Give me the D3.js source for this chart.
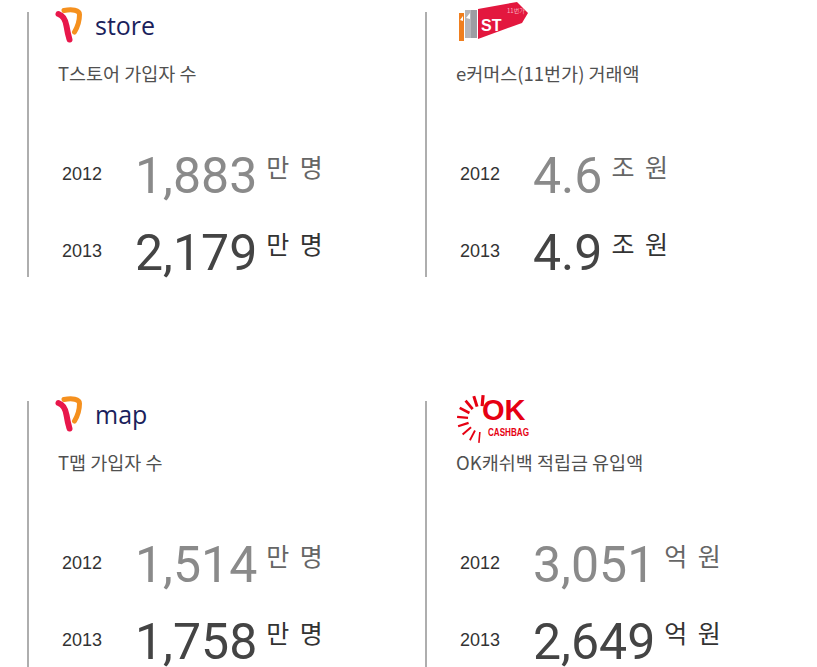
<!DOCTYPE html>
<html><head><meta charset="utf-8">
<script src="https://cdn.jsdelivr.net/npm/d3@7"></script>
<style>html,body{margin:0;padding:0;background:#fff;}svg{display:block;}</style>
</head><body>
<script>
// ---- data ----
const panelTitles = ["T스토어 가입자 수", "e커머스(11번가) 거래액", "T맵 가입자 수", "OK캐쉬백 적립금 유입액"];
const panelLogos = ["store", "11st", "map", "ok"];
const years = ["2012", "2013"];
const values2012 = [1883, 4.6, 1514, 3051];
const values2013 = [2179, 4.9, 1758, 2649];
const units = ["만 명", "조 원", "만 명", "억 원"];
const valueFormats = [",", ".1f", ",", ","];

const W = 817, H = 667;
const svg = d3.select("body").append("svg").attr("width", W).attr("height", H);

const colX = d3.scalePoint().domain([0, 1]).range([0, 398]);
const rowY = d3.scalePoint().domain([0, 1]).range([0, 389]);
const yearY = d3.scalePoint().domain(years).range([193, 270]);

const numColor = {"2012": "#8a8a8a", "2013": "#444"};
const unitColor = {"2012": "#666", "2013": "#333"};
const kr = "'Noto Sans CJK KR', 'Noto Sans', sans-serif";

panelTitles.forEach((title, i) => {
  const g = svg.append("g")
    .attr("transform", `translate(${colX(i % 2)},${rowY(Math.floor(i / 2))})`);

  // divider line
  g.append("line").attr("x1", 28).attr("x2", 28)
    .attr("y1", 12).attr("y2", i < 2 ? 277 : 280)
    .attr("stroke", "#9a9a9a").attr("stroke-width", 1.6);

  // logo
  drawLogo(g, panelLogos[i]);

  // title
  g.append("text").attr("x", 58).attr("y", 81)
    .attr("font-family", kr).attr("font-size", 18.5)
    .attr("fill", "#505050").text(title);

  const vals = [values2012[i], values2013[i]];
  years.forEach((yr, k) => {
    const by = yearY(yr);
    g.append("text").attr("x", 62).attr("y", by - 13)
      .attr("font-family", "'Liberation Sans', Arial, sans-serif")
      .attr("font-size", 18).attr("fill", "#333").text(yr);
    const num = g.append("text").attr("x", 135).attr("y", by)
      .attr("font-family", "Roboto, sans-serif").attr("font-size", 50)
      .attr("fill", numColor[yr]).text(d3.format(valueFormats[i])(vals[k]));
    const w = num.node().getComputedTextLength();
    g.append("text").attr("x", 135 + w + 9).attr("y", by - 16)
      .attr("font-family", kr).attr("font-size", 25).attr("word-spacing", 5)
      .attr("fill", unitColor[yr]).text(units[i]);
  });
});

function drawLogo(g, type) {
  if (type === "store" || type === "map") {
    g.append("path")
      .attr("d", "M64,10.5 C72,9 79.5,10 79.5,14.5 C79.5,21 77.5,27 74.5,32")
      .attr("fill", "none").attr("stroke", "#f5901e").attr("stroke-width", 5).attr("stroke-linecap", "round");
    g.append("path")
      .attr("d", "M58.5,14 C63,15.5 65.5,20 66.5,26 C67.3,31 68.2,35 69.5,39.5")
      .attr("fill", "none").attr("stroke", "#e8174b").attr("stroke-width", 6).attr("stroke-linecap", "round");
    g.append("text").attr("x", 95).attr("y", 35)
      .attr("font-family", "'Open Sans', 'DejaVu Sans', sans-serif")
      .attr("font-size", 25).attr("fill", "#1b1f5c").text(type);
  } else if (type === "11st") {
    g.append("rect").attr("x", 61).attr("y", 13).attr("width", 5).attr("height", 28).attr("fill", "#f07f1f");
    g.append("path").attr("d", "M62,20 L65,16 L65,21 Z").attr("fill", "#fff");
    g.append("rect").attr("x", 67).attr("y", 10).attr("width", 6).attr("height", 28).attr("fill", "#b6b6bb");
    g.append("rect").attr("x", 73).attr("y", 10).attr("width", 6).attr("height", 28).attr("fill", "#9d9da3");
    g.append("path").attr("d", "M68,18 L72,13 L72,19 Z").attr("fill", "#fff");
    g.append("path").attr("d", "M80,9 L119,2 L130,13 L124,23 L80,39 Z").attr("fill", "#e3173e");
    g.append("text").attr("x", 83).attr("y", 31)
      .attr("font-family", "'Liberation Sans', Arial, sans-serif").attr("font-weight", "bold")
      .attr("font-size", 16).attr("fill", "#fff").text("ST");
    g.append("text").attr("x", 109).attr("y", 13)
      .attr("font-family", kr).attr("font-size", 6).attr("fill", "#f7b3c0").text("11번가");
  } else if (type === "ok") {
    const cx = 83, cy = 30;
    const rays = d3.range(9);
    const ang = d3.scaleLinear().domain([0, 8]).range([-85, -265]);
    const sw = d3.scaleLinear().domain([0, 8]).range([3.2, 1.6]);
    g.selectAll("line.ray").data(rays).enter().append("line")
      .attr("x1", d => cx + 13 * Math.cos(ang(d) * Math.PI / 180))
      .attr("y1", d => cy + 13 * Math.sin(ang(d) * Math.PI / 180))
      .attr("x2", d => cx + 24 * Math.cos(ang(d) * Math.PI / 180))
      .attr("y2", d => cy + 24 * Math.sin(ang(d) * Math.PI / 180))
      .attr("stroke", "#e60012").attr("stroke-width", d => sw(d));
    g.append("text").attr("x", 84).attr("y", 31)
      .attr("font-family", "'Liberation Sans', Arial, sans-serif").attr("font-weight", "bold")
      .attr("font-size", 29).attr("fill", "#e60012").text("OK");
    g.append("text").attr("x", 90).attr("y", 47)
      .attr("font-family", "'Liberation Sans', Arial, sans-serif").attr("font-weight", "bold")
      .attr("font-size", 10.5).attr("textLength", 41).attr("lengthAdjust", "spacingAndGlyphs")
      .attr("fill", "#e60012").text("CASHBAG");
  }
}
</script>
</body></html>
